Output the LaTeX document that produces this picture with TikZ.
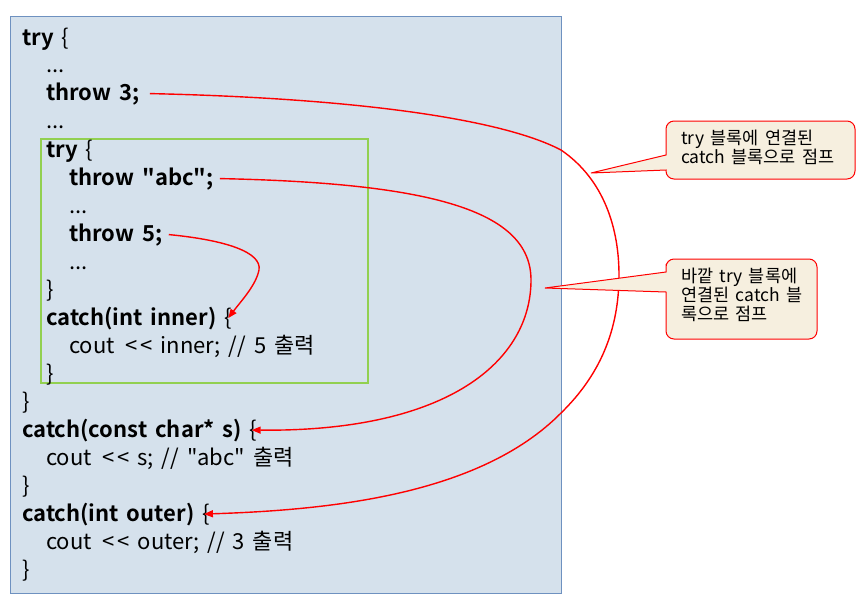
\documentclass[tikz,border=0pt]{standalone}
\usepackage{fontspec}
\setmainfont{Noto Sans CJK KR}[Ligatures=TeXOff, WordSpace=1.6, BoldFont={Noto Sans CJK KR Bold}]
\usetikzlibrary{arrows.meta}
\definecolor{boxblue}{RGB}{213,225,236}
\definecolor{boxedge}{RGB}{110,145,192}
\definecolor{grn}{RGB}{146,208,80}
\definecolor{beige}{RGB}{246,239,223}
\newcommand{\ltlt}{\hspace{11pt}<\kern2.5pt<}
\begin{document}
\begin{tikzpicture}[x=1pt,y=-1pt,
  code/.style={anchor=base west, inner sep=0pt, font=\fontsize{22}{26}\selectfont},
  kw/.style={code, font=\fontsize{22}{26}\selectfont\bfseries},
  arr/.style={red, line width=1.4pt, -{Triangle[length=9pt,width=7pt]}},
  call/.style={draw=red, line width=1pt, fill=beige},
  calltext/.style={anchor=north west, inner sep=0pt, align=left, font=\fontsize{17.5}{18.8}\selectfont}]
\useasboundingbox (0,0) rectangle (863,606);
% outer block
\draw[boxedge, fill=boxblue, line width=1pt] (10,16) rectangle (561,593);
% inner try block
\draw[grn, line width=2pt] (41,139) rectangle (368,383);
% code lines
\node[kw] (l0) at (22,45) {try \textmd{\{}};
\node[code] (l1) at (46,72) {...};
\node[kw] (t3) at (46,100) {throw 3;};
\node[code] (l3) at (46,128) {...};
\node[kw] (l4) at (46,157) {try \textmd{\{}};
\node[kw] (tabc) at (69,185) {throw "abc";};
\node[code] (l6) at (69,213) {...};
\node[kw] (t5) at (69,241) {throw 5;};
\node[code] (l8) at (69,269) {...};
\node[code] (l9) at (46,297) {\}};
\node[kw] (ci) at (46,325) {catch(int inner) \textmd{\{}};
\node[code] (l11) at (69,353) {cout\ltlt{} inner; // 5 출력};
\node[code] (l12) at (46,381) {\}};
\node[code] (l13) at (22,409) {\}};
\node[kw] (cc) at (22,437) {catch(const char* s) \textmd{\{}};
\node[code] (l15) at (46,465) {cout\ltlt{} s; // "abc" 출력};
\node[code] (l16) at (22,493) {\}};
\node[kw] (co) at (22,521) {catch(int outer) \textmd{\{}};
\node[code] (l18) at (46,549) {cout\ltlt{} outer; // 3 출력};
\node[code] (l19) at (22,577) {\}};
% arrows
\draw[arr] ([xshift=10pt]t3.east) .. controls (350,98) and (500,118) .. (561,150)
  .. controls (605,180) and (619,230) .. (619,275)
  .. controls (619,330) and (600,375) .. (561,413)
  .. controls (480,495) and (330,510) .. ([xshift=-6pt]co.east);
\draw[arr] ([xshift=6pt]tabc.east) .. controls (430,183) and (531,210) .. (531,280)
  .. controls (531,360) and (450,432) .. ([xshift=-6pt]cc.east);
\draw[arr] ([xshift=6pt]t5.east) .. controls (225,240) and (262,252) .. (259,270)
  .. controls (256,285) and (242,300) .. ([xshift=-4pt]ci.east);
% callouts
\draw[call] (666,155) -- (591,173) -- (666,170) [rounded corners=8pt] -- (666,179) -- (855,179) -- (855,121) -- (666,121) -- (666,155) [sharp corners] -- cycle;
\node[calltext] (c1) at (681,130) {try 블록에 연결된\\catch 블록으로 점프};
\draw[call] (666,272) -- (545,288) -- (666,292) [rounded corners=8pt] -- (666,339) -- (817,339) -- (817,259) -- (666,259) -- (666,272) [sharp corners] -- cycle;
\node[calltext] (c2) at (681,268) {바깥 try 블록에\\연결된 catch 블\\록으로 점프};
\end{tikzpicture}
\end{document}
